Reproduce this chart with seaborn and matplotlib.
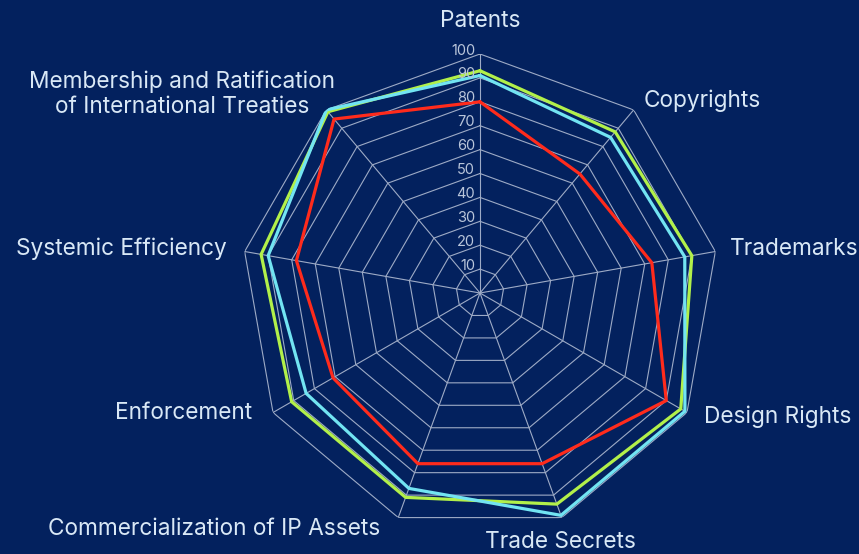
import numpy as np
import pandas as pd
import matplotlib
matplotlib.use("Agg")
import matplotlib.pyplot as plt
import seaborn as sns

categories = ["Patents", "Copyrights", "Trademarks", "Design Rights", "Trade Secrets",
              "Commercialization of IP Assets", "Enforcement", "Systemic Efficiency",
              "Membership and Ratification\nof International Treaties"]
series_green = [93, 88, 90, 97, 94, 91, 91, 93, 99]
series_cyan = [91, 85, 87, 99, 99, 87, 84, 90, 100]
series_red = [80, 65, 73, 90, 76, 76, 71, 78, 95]
tick_values = [10, 20, 30, 40, 50, 60, 70, 80, 90, 100]

BG = "#03215e"
GRID = "#9eabc6"
TXT = "#d9e8f6"
TICK = "#b9c5da"

sns.set_theme(style="white")
plt.rcParams["font.family"] = ["Inter", "DejaVu Sans"]

fig = plt.figure(figsize=(8.59, 5.54), dpi=100, facecolor=BG)
ax = fig.add_axes([(480 - 239) / 859, (554 - 293 - 239) / 554, 478 / 859, 478 / 554], polar=True)
ax.set_facecolor("none")
ax.set_theta_offset(np.pi / 2)
ax.set_theta_direction(-1)

n = len(categories)
theta = np.arange(n) * 2 * np.pi / n
theta_closed = np.append(theta, 2 * np.pi)

# polygon grid
for v in tick_values:
    ax.plot(theta_closed, [v] * (n + 1), color=GRID, lw=0.8, zorder=1)
for t in theta:
    ax.plot([t, t], [0, 100], color=GRID, lw=0.8, zorder=1)

colors = ["#b2f04a", "#72e4f2", "#ff2b1c"]
for vals, c in zip([series_green, series_cyan, series_red], colors):
    df = pd.DataFrame({"theta": theta_closed, "value": list(vals) + [vals[0]]})
    sns.lineplot(data=df, x="theta", y="value", ax=ax, sort=False, color=c, lw=2.3, zorder=3)

ax.set_ylim(0, 100)
ax.set_xticks([])
ax.set_yticks([])
ax.grid(False)
ax.spines["polar"].set_visible(False)
ax.set_xlabel("")
ax.set_ylabel("")

# radial tick labels
for v in tick_values:
    ax.annotate(str(v), xy=(0, v), xytext=(-3.5, 2.5), textcoords="offset points",
                ha="right", va="center", color=TICK, fontsize=10.5, zorder=4)

# category labels: (angle deg, radius, ha)
label_pos = [(0, 114.5, "center"), (40.2, 106.3, "left"), (79.6, 106.2, "left"),
             (118.6, 106.7, "left"), (162, 108.8, "center"), (203.1, 106.5, "right"),
             (242.6, 107.4, "right"), (280.3, 107.5, "right"), (304, 150.4, "center")]
for lab, (ang, r, ha) in zip(categories, label_pos):
    ax.annotate(lab, xy=(np.deg2rad(ang), r), xytext=(0, -1.5), textcoords="offset points",
                ha=ha, va="center", color=TXT, fontsize=16.3,
                multialignment="center", linespacing=1.15, annotation_clip=False)

fig.savefig("out.png", dpi=100, facecolor=BG)
